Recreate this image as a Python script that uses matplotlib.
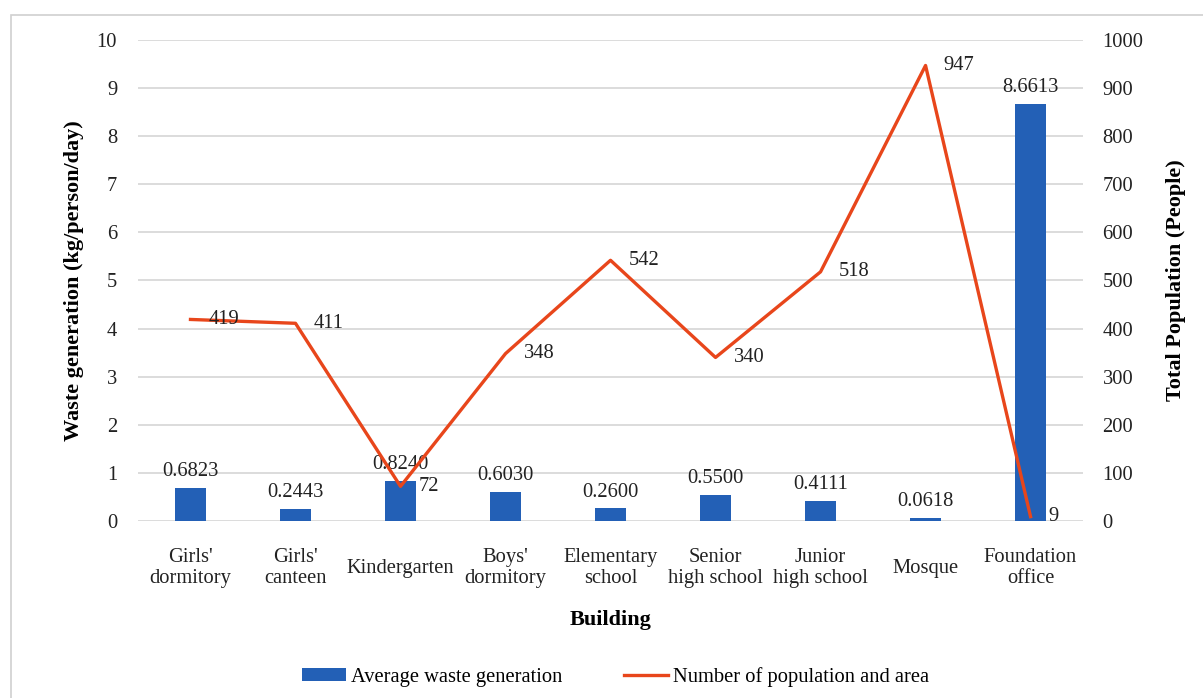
import matplotlib
matplotlib.use("Agg")
import matplotlib.pyplot as plt
from matplotlib.patches import Rectangle
import numpy as np

buildings = ["Girls'\ndormitory", "Girls'\ncanteen", "Kindergarten", "Boys'\ndormitory",
             "Elementary\nschool", "Senior\nhigh school", "Junior\nhigh school", "Mosque",
             "Foundation\noffice"]
waste = [0.6823, 0.2443, 0.8240, 0.6030, 0.2600, 0.5500, 0.4111, 0.0618, 8.6613]
population = [419, 411, 72, 348, 542, 340, 518, 947, 9]

BAR_COLOR = "#2360B6"
LINE_COLOR = "#E8461B"
GRID_COLOR = "#D9D9D9"
FS = 14.8

plt.rcParams["font.family"] = ["Liberation Serif", "DejaVu Serif"]

fig = plt.figure(figsize=(12.03, 6.98), dpi=100)
ax = fig.add_axes([0.1147, 0.2536, 0.7856, 0.6891])
ax2 = ax.twinx()

x = np.arange(len(buildings))
bars = ax.bar(x, waste, width=0.3, color=BAR_COLOR, zorder=2,
              label="Average waste generation")
for xi, v in zip(x, waste):
    ax.annotate(f"{v:.4f}", (xi, v), xytext=(0, 5), textcoords="offset points",
                ha="center", va="bottom", fontsize=FS, color="#222222")

line, = ax2.plot(x, population, color=LINE_COLOR, lw=2.4, zorder=3,
                 label="Number of population and area")
for xi, v in zip(x, population):
    ax2.annotate(f"{v}", (xi, v), xytext=(13, 0), textcoords="offset points",
                 ha="left", va="center", fontsize=FS, color="#222222")

ax.set_xlim(-0.5, len(buildings) - 0.5)
ax.set_ylim(0, 10)
ax2.set_ylim(0, 1000)
ax.set_yticks(np.arange(0, 11, 1))
ax2.set_yticks(np.arange(0, 1001, 100))
ax.grid(axis="y", color=GRID_COLOR, lw=1.3, zorder=0)
ax.set_axisbelow(True)

for a in (ax, ax2):
    for s in a.spines.values():
        s.set_visible(False)
    a.tick_params(length=0, labelsize=FS, colors="#222222")
ax.tick_params(axis="y", pad=15)
ax2.tick_params(axis="y", pad=14)
ax.set_xticks(x)
ax.set_xticklabels(buildings, fontsize=FS, linespacing=1.12, va="center")
ax.tick_params(axis="x", pad=34)

ax.set_xlabel("Building", fontsize=16, fontweight="bold", labelpad=16)
ax.set_ylabel("Waste generation (kg/person/day)", fontsize=16, fontweight="bold", labelpad=9)
ax2.set_ylabel("Total Population (People)", fontsize=16, fontweight="bold", labelpad=16)

fig.legend(handles=[bars, line], loc="center", bbox_to_anchor=(0.5117, 0.030),
           ncol=2, frameon=False, fontsize=FS, handlelength=2.15, handleheight=0.6,
           columnspacing=3.0, handletextpad=0.25)

fig.patches.append(Rectangle((11 / 1203, -0.05), 1.2, 1 - 15 / 698 + 0.05,
                             transform=fig.transFigure, fill=False,
                             edgecolor="#D0D0D0", lw=1.2))

fig.savefig("out.png", dpi=100)
